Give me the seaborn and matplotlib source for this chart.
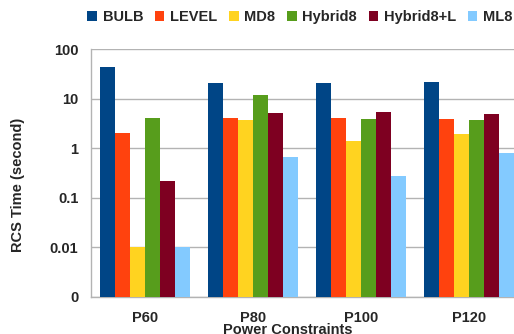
import matplotlib
matplotlib.use("Agg")
import matplotlib.pyplot as plt
from matplotlib.patches import Patch
import pandas as pd
import seaborn as sns

constraints = ["P60", "P80", "P100", "P120"]
methods = ["BULB", "LEVEL", "MD8", "Hybrid8", "Hybrid8+L", "ML8"]
bulb = [44, 21, 21, 22]
level = [2.05, 4.1, 4.1, 3.9]
md8 = [0.01, 3.7, 1.41, 1.95]
hybrid8 = [4.1, 12, 3.9, 3.7]
hybrid8_l = [0.22, 5.2, 5.4, 4.95]
ml8 = [0.01, 0.67, 0.28, 0.81]
colors = ["#004586", "#ff420e", "#ffd320", "#579d1c", "#7e0021", "#83caff"]
y_ticks = [0.001, 0.01, 0.1, 1, 10, 100]
y_tick_labels = ["0", "0.01", "0.1", "1", "10", "100"]

series = [bulb, level, md8, hybrid8, hybrid8_l, ml8]
rows = []
for m, vals in zip(methods, series):
    for c, v in zip(constraints, vals):
        rows.append({"constraint": c, "method": m, "time": v})
df = pd.DataFrame(rows)

sns.set_style("white")
plt.rcParams["font.family"] = ["Liberation Sans", "DejaVu Sans"]
plt.rcParams["font.weight"] = "bold"

FS = 10.5

fig = plt.figure(figsize=(5.14, 3.34), dpi=100)
ax = fig.add_axes([91 / 514, 37 / 334, 432 / 514, 247.7 / 334])
ax.set_yscale("log")

sns.barplot(data=df, x="constraint", y="time", hue="method",
            order=constraints, hue_order=methods, palette=colors,
            saturation=1, width=0.833, gap=0, errorbar=None,
            legend=False, ax=ax, zorder=3)
for p in ax.patches:
    p.set_linewidth(0)

ax.set_ylim(0.001, 100)
ax.set_xlim(-0.5, 3.5)
ax.set_yticks(y_ticks)
ax.set_yticklabels(y_tick_labels)
ax.yaxis.set_minor_locator(matplotlib.ticker.NullLocator())
ax.grid(axis="y", color="#b3b3b3", linewidth=1, zorder=0)
ax.set_axisbelow(True)

grey = "#b3b3b3"
for s in ["top", "right"]:
    ax.spines[s].set_visible(False)
for s in ["left", "bottom"]:
    ax.spines[s].set_color(grey)
    ax.spines[s].set_linewidth(1)

ax.tick_params(axis="y", which="major", direction="out", length=5, width=1,
               color=grey, labelsize=FS, pad=4)
ax.set_xticks([-0.5, 0.5, 1.5, 2.5, 3.5], minor=True)
ax.tick_params(axis="x", which="minor", direction="out", length=5, width=1,
               color=grey)
ax.tick_params(axis="x", which="major", length=0, labelsize=FS, pad=10)
for lbl in ax.get_xticklabels() + ax.get_yticklabels():
    lbl.set_fontweight("bold")

ax.set_xlabel("Power Constraints", fontsize=FS, fontweight="bold")
ax.set_ylabel("RCS Time (second)", fontsize=FS, fontweight="bold")
ax.xaxis.set_label_coords(0.455, -0.105)
ax.yaxis.set_label_coords(-0.153, 0.452)

handles = [Patch(facecolor=c, edgecolor="none") for c in colors]
fig.legend(handles, methods, loc="center", bbox_to_anchor=(300 / 514, 1 - 17 / 334),
           ncol=6, frameon=False, handlelength=0.65, handleheight=0.65,
           handletextpad=0.4, columnspacing=0.8,
           prop={"size": FS, "weight": "bold"})

fig.savefig("out.png", dpi=100, facecolor="white")
